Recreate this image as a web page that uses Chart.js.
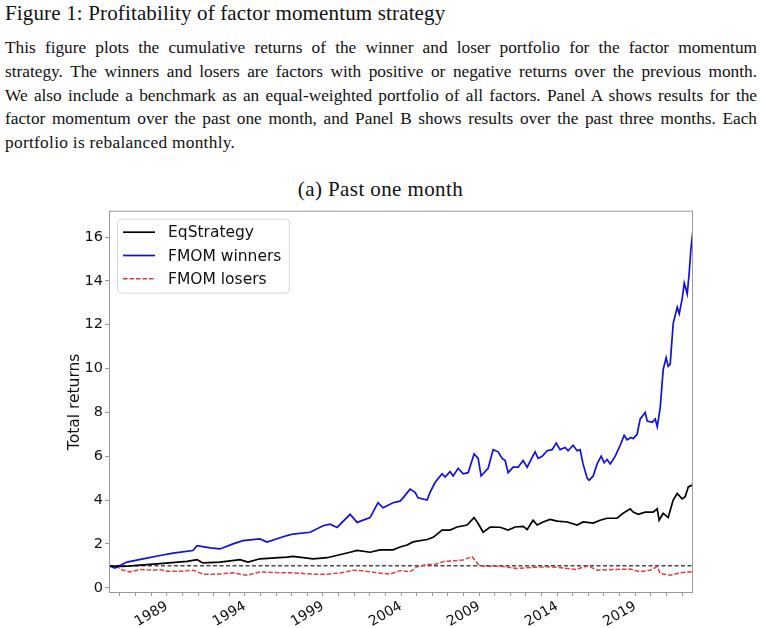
<!DOCTYPE html>
<html>
<head>
<meta charset="utf-8">
<script src="https://cdn.jsdelivr.net/npm/chart.js@4.4.1/dist/chart.umd.min.js"></script>
<style>
  html, body { margin: 0; padding: 0; background: #fff; }
  body { width: 761px; height: 628px; position: relative; overflow: hidden; font-family: 'Liberation Serif', serif; color: #111; }
  #title { position: absolute; left: 5px; top: 0; font-size: 21px; letter-spacing: 0.15px; line-height: 26px; white-space: nowrap; }
  #caption { position: absolute; left: 5px; top: 36px; width: 752px; font-size: 17.3px; line-height: 23.8px; }
  #caption span { display: block; text-align: justify; text-align-last: justify; }
  #caption span.last { text-align-last: left; letter-spacing: 0.3px; }
  #subtitle { position: absolute; left: 0; top: 176px; width: 761px; text-align: center; font-size: 21px; letter-spacing: 0.4px; line-height: 26px; }
  #chart { position: absolute; left: 0; top: 200px; }
</style>
</head>
<body>
<div id="title">Figure 1: Profitability of factor momentum strategy</div>
<div id="caption">
  <span>This figure plots the cumulative returns of the winner and loser portfolio for the factor momentum</span>
  <span>strategy. The winners and losers are factors with positive or negative returns over the previous month.</span>
  <span>We also include a benchmark as an equal-weighted portfolio of all factors. Panel A shows results for the</span>
  <span>factor momentum over the past one month, and Panel B shows results over the past three months. Each</span>
  <span class="last">portfolio is rebalanced monthly.</span>
</div>
<div id="subtitle">(a) Past one month</div>
<canvas id="chart" width="761" height="428"></canvas>
<script>
// values (x in decimal years)
const eqDates = [1985.30, 1986.20, 1987.09, 1988.57, 1990.30, 1990.94, 1991.32, 1992.41, 1993.69, 1994.20,
  1994.97, 1996.70, 1997.09, 1998.37, 1999.27, 2000.74, 2001.19, 2002.02, 2002.66, 2003.49,
  2003.94, 2004.39, 2004.77, 2005.67, 2006.06, 2006.63, 2007.14, 2007.59, 2008.23, 2008.68,
  2008.94, 2009.26, 2009.71, 2010.35, 2010.86, 2011.31, 2011.82, 2012.08, 2012.46, 2012.72,
  2013.10, 2013.55, 2014.00, 2014.64, 2015.28, 2015.66, 2016.31, 2016.75, 2017.20, 2017.84,
  2018.23, 2018.68, 2018.87, 2019.19, 2019.64, 2020.15, 2020.41, 2020.53, 2020.79, 2021.11,
  2021.43, 2021.69, 2022.01, 2022.20, 2022.40, 2022.70];
const eqValues = [1.00, 0.97, 1.02, 1.10, 1.20, 1.28, 1.13, 1.17, 1.28, 1.17,
  1.32, 1.40, 1.43, 1.32, 1.37, 1.62, 1.70, 1.62, 1.73, 1.73,
  1.86, 1.95, 2.09, 2.20, 2.30, 2.63, 2.63, 2.77, 2.86, 3.20,
  2.93, 2.53, 2.77, 2.76, 2.63, 2.77, 2.80, 2.66, 3.08, 2.86,
  3.00, 3.12, 3.04, 3.00, 2.86, 3.00, 2.95, 3.08, 3.17, 3.17,
  3.40, 3.60, 3.45, 3.35, 3.45, 3.45, 3.60, 3.08, 3.40, 3.20,
  4.00, 4.30, 4.05, 4.15, 4.60, 4.70];

const winnersDates = [1985.30, 1985.68, 1986.45, 1987.48, 1988.57, 1989.40, 1990.68, 1990.94, 1991.77, 1992.41,
  1993.24, 1993.88, 1994.97, 1995.42, 1996.70, 1997.09, 1998.18, 1999.01, 1999.46, 1999.91,
  2000.74, 2001.19, 2002.02, 2002.53, 2002.85, 2003.49, 2003.94, 2004.13, 2004.58, 2004.90,
  2005.09, 2005.67, 2005.86, 2006.18, 2006.63, 2006.82, 2007.14, 2007.34, 2007.66, 2007.98,
  2008.30, 2008.68, 2008.94, 2009.13, 2009.26, 2009.58, 2009.90, 2010.22, 2010.48, 2010.67,
  2010.86, 2011.18, 2011.50, 2011.82, 2012.08, 2012.40, 2012.59, 2012.78, 2013.04, 2013.36,
  2013.68, 2013.94, 2014.19, 2014.51, 2014.70, 2015.02, 2015.28, 2015.47, 2015.66, 2015.92,
  2016.05, 2016.31, 2016.56, 2016.82, 2017.01, 2017.20, 2017.40, 2017.72, 2018.04, 2018.29,
  2018.48, 2018.74, 2018.87, 2019.12, 2019.32, 2019.64, 2019.77, 2020.09, 2020.28, 2020.41,
  2020.60, 2020.79, 2020.98, 2021.11, 2021.24, 2021.43, 2021.69, 2021.82, 2022.01, 2022.14,
  2022.33, 2022.46, 2022.56, 2022.70];
const winnersValues = [1.00, 0.90, 1.17, 1.32, 1.47, 1.58, 1.70, 1.92, 1.82, 1.77,
  2.00, 2.15, 2.23, 2.08, 2.38, 2.45, 2.53, 2.83, 2.90, 2.75,
  3.35, 2.98, 3.20, 3.88, 3.65, 3.88, 3.95, 4.10, 4.50, 4.35,
  4.10, 4.00, 4.35, 4.80, 5.20, 5.05, 5.30, 5.10, 5.45, 5.20,
  5.25, 6.10, 5.90, 5.10, 5.20, 5.45, 6.30, 6.20, 5.90, 5.80,
  5.25, 5.50, 5.50, 5.80, 5.50, 5.95, 6.20, 5.90, 6.00, 6.25,
  6.30, 6.60, 6.30, 6.40, 6.25, 6.50, 6.25, 6.30, 5.65, 5.00,
  4.90, 5.10, 5.65, 6.00, 5.70, 5.85, 5.65, 6.00, 6.50, 6.95,
  6.75, 6.85, 6.80, 7.00, 7.70, 8.00, 7.60, 7.55, 7.70, 7.35,
  8.20, 9.95, 10.50, 10.10, 10.20, 12.05, 12.80, 12.50, 13.20, 13.90,
  13.40, 14.40, 15.40, 16.35];

const losersDates = [1985.30, 1985.81, 1986.20, 1986.65, 1987.29, 1988.12, 1988.57, 1989.02, 1989.85, 1990.68,
  1991.32, 1992.22, 1993.24, 1994.14, 1994.97, 1996.06, 1997.09, 1998.37, 1999.27, 2000.29,
  2000.93, 2001.57, 2002.47, 2003.30, 2003.94, 2004.58, 2005.03, 2005.67, 2006.06, 2006.70,
  2007.34, 2007.98, 2008.55, 2008.94, 2009.26, 2010.35, 2011.44, 2012.46, 2013.55, 2014.64,
  2015.15, 2015.98, 2016.56, 2017.59, 2018.68, 2019.32, 2019.96, 2020.41, 2020.60, 2021.24,
  2021.88, 2022.56, 2022.70];
const losersValues = [1.00, 0.95, 0.80, 0.72, 0.83, 0.80, 0.83, 0.75, 0.75, 0.80,
  0.62, 0.62, 0.68, 0.57, 0.72, 0.69, 0.68, 0.62, 0.62, 0.69,
  0.80, 0.77, 0.68, 0.62, 0.78, 0.73, 0.96, 1.07, 1.04, 1.19,
  1.23, 1.27, 1.42, 1.07, 0.98, 0.98, 0.88, 0.93, 0.96, 0.88,
  0.83, 1.00, 0.80, 0.83, 0.85, 0.73, 0.80, 0.96, 0.65, 0.57,
  0.68, 0.73, 0.62];

const benchmarkLevel = 1;
const xMin = 1985.3, xMax = 2022.7;
const yTicks = [0, 2, 4, 6, 8, 10, 12, 14, 16];
const xLabelYears = [1989, 1994, 1999, 2004, 2009, 2014, 2019];

const toPoints = (xs, ys) => xs.map((x, i) => ({ x, y: ys[i] }));

Chart.defaults.font.family = 'DejaVu Sans';
Chart.defaults.color = '#111';

const AXIS_GREY = '#9a9a9a';

// frame around the plot + legend box inside the top-left corner
const frameLegend = {
  id: 'frameLegend',
  afterDatasetsDraw(chart) {
    const { ctx, chartArea: a } = chart;
    ctx.save();
    ctx.strokeStyle = AXIS_GREY;
    ctx.lineWidth = 1;
    ctx.strokeRect(a.left + 0.5, a.top + 0.5, a.right - a.left - 1, a.bottom - a.top - 1);

    const items = chart.data.datasets.filter(d => d.label);
    const bx = a.left + 8, by = a.top + 8, bw = 172, bh = 74;
    ctx.beginPath();
    ctx.roundRect(bx + 0.5, by + 0.5, bw, bh, 4);
    ctx.fillStyle = 'rgba(255,255,255,0.8)';
    ctx.fill();
    ctx.strokeStyle = '#d6d6d6';
    ctx.stroke();

    ctx.font = '15.5px "DejaVu Sans"';
    ctx.textBaseline = 'middle';
    items.forEach((d, i) => {
      const y = by + 13.5 + i * 23.3;
      ctx.beginPath();
      ctx.setLineDash(d.borderDash || []);
      ctx.strokeStyle = d.borderColor;
      ctx.lineWidth = d.borderWidth;
      ctx.moveTo(bx + 6, y);
      ctx.lineTo(bx + 38, y);
      ctx.stroke();
      ctx.setLineDash([]);
      ctx.fillStyle = '#111';
      ctx.fillText(d.label, bx + 51, y + 1);
    });
    ctx.restore();
  }
};

new Chart(document.getElementById('chart'), {
  type: 'line',
  data: {
    datasets: [
      { label: 'EqStrategy',    data: toPoints(eqDates, eqValues),           borderColor: '#000000', borderWidth: 1.7 },
      { label: 'FMOM winners',  data: toPoints(winnersDates, winnersValues), borderColor: '#1010e0', borderWidth: 1.7 },
      { label: 'FMOM losers',   data: toPoints(losersDates, losersValues),   borderColor: '#e8383a', borderWidth: 1.5, borderDash: [4.5, 2] },
      { label: '', data: [{ x: xMin, y: benchmarkLevel }, { x: xMax, y: benchmarkLevel }], borderColor: '#4a4a4a', borderWidth: 1.5, borderDash: [4, 2.5] },
    ],
  },
  options: {
    responsive: false,
    animation: false,
    devicePixelRatio: 1,
    layout: { padding: { left: 0, right: 68, top: 8, bottom: 0 } },
    elements: { point: { radius: 0 }, line: { tension: 0 } },
    plugins: { legend: { display: false }, tooltip: { enabled: false } },
    scales: {
      x: {
        type: 'linear',
        min: xMin,
        max: xMax,
        afterBuildTicks: s => { s.ticks = []; for (let y = 1986; y <= 2022; y++) s.ticks.push({ value: y }); },
        afterFit: s => { s.height = 35; },
        border: { display: false },
        grid: { drawOnChartArea: false, drawTicks: true, tickLength: 3, color: AXIS_GREY },
        ticks: {
          autoSkip: false,
          minRotation: 30,
          maxRotation: 30,
          padding: 2,
          font: { size: 14 },
          callback: v => xLabelYears.includes(v) ? String(v) : '',
        },
      },
      y: {
        min: -0.24,
        max: 17.2,
        afterBuildTicks: s => { s.ticks = yTicks.map(v => ({ value: v })); },
        afterFit: s => { s.width = 109; },
        border: { display: false },
        grid: { drawOnChartArea: false, drawTicks: true, tickLength: 4, color: AXIS_GREY },
        ticks: { padding: 2, font: { size: 14.5 } },
        title: { display: true, text: 'Total returns', font: { size: 15.5 }, padding: { top: 65.5, bottom: 0 }, color: '#111' },
      },
    },
  },
  plugins: [frameLegend],
});
</script>
</body>
</html>
